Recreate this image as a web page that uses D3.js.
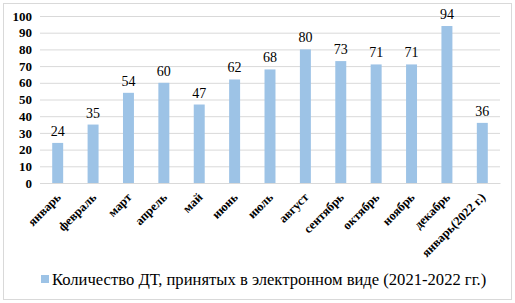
<!DOCTYPE html>
<html>
<head>
<meta charset="utf-8">
<script src="https://cdn.jsdelivr.net/npm/d3@7"></script>
<style>
  body { margin: 0; background: #fff; }
  svg { display: block; }
</style>
</head>
<body>
<div id="chart"></div>
<script>
const months = ["январь", "февраль", "март", "апрель", "май", "июнь", "июль",
  "август", "сентябрь", "октябрь", "ноябрь", "декабрь", "январь(2022 г.)"];
const counts = [24, 35, 54, 60, 47, 62, 68, 80, 73, 71, 71, 94, 36];
const yTicks = [0, 10, 20, 30, 40, 50, 60, 70, 80, 90, 100];
const seriesName = "Количество ДТ, принятых в электронном виде (2021-2022 гг.)";

const width = 515, height = 303;
const margin = { top: 16, right: 15, bottom: 120, left: 40 };
const font = "Liberation Serif, Times New Roman, serif";
const barColor = "#9dc3e6";

const svg = d3.select("#chart").append("svg")
  .attr("width", width)
  .attr("height", height);

// outer frame
svg.append("rect")
  .attr("x", 3.5).attr("y", 3.5)
  .attr("width", width - 7).attr("height", height - 7)
  .attr("fill", "#fff")
  .attr("stroke", "#d9d9d9");

const x = d3.scaleBand()
  .domain(months)
  .range([margin.left, width - margin.right])
  .paddingInner(0.69)
  .paddingOuter(0.345);

const y = d3.scaleLinear()
  .domain([0, 100])
  .range([height - margin.bottom, margin.top]);

// grid
svg.append("g")
  .selectAll("line")
  .data(yTicks)
  .join("line")
  .attr("x1", margin.left)
  .attr("x2", width - margin.right)
  .attr("y1", d => y(d) + 0.5)
  .attr("y2", d => y(d) + 0.5)
  .attr("stroke", "#d9d9d9");

// y axis
const yAxis = svg.append("g")
  .attr("transform", `translate(${margin.left},0)`)
  .call(d3.axisLeft(y).tickValues(yTicks).tickSize(0).tickPadding(8));
yAxis.select(".domain").remove();
yAxis.selectAll("text")
  .attr("font-family", font)
  .attr("font-weight", "bold")
  .attr("font-size", 13)
  .attr("fill", "#000");

// bars
svg.append("g")
  .selectAll("rect")
  .data(counts)
  .join("rect")
  .attr("x", (d, i) => x(months[i]))
  .attr("y", d => y(d))
  .attr("width", x.bandwidth())
  .attr("height", d => y(0) - y(d))
  .attr("fill", barColor);

// value labels
svg.append("g")
  .selectAll("text")
  .data(counts)
  .join("text")
  .attr("x", (d, i) => x(months[i]) + x.bandwidth() / 2)
  .attr("y", d => y(d) - 7)
  .attr("text-anchor", "middle")
  .attr("font-family", font)
  .attr("font-size", 14)
  .attr("fill", "#000")
  .text(d => d);

// x axis
const xAxis = svg.append("g")
  .attr("transform", `translate(0,${y(0)})`)
  .call(d3.axisBottom(x).tickSize(0).tickPadding(0));
xAxis.select(".domain").attr("stroke", "#d9d9d9");
xAxis.selectAll("text")
  .attr("font-family", font)
  .attr("font-weight", "bold")
  .attr("font-size", 12.5)
  .attr("fill", "#000")
  .attr("text-anchor", "end")
  .attr("dy", null)
  .attr("y", 0)
  .attr("transform", "translate(4,15) rotate(-45)");

// legend
const legend = svg.append("g")
  .attr("transform", `translate(41,279)`);
legend.append("rect")
  .attr("x", 0).attr("y", -4)
  .attr("width", 8).attr("height", 8)
  .attr("fill", barColor);
legend.append("text")
  .attr("x", 11).attr("y", 0)
  .attr("dominant-baseline", "central")
  .attr("font-family", font)
  .attr("font-size", 16.6)
  .attr("fill", "#000")
  .text(seriesName);
</script>
</body>
</html>
